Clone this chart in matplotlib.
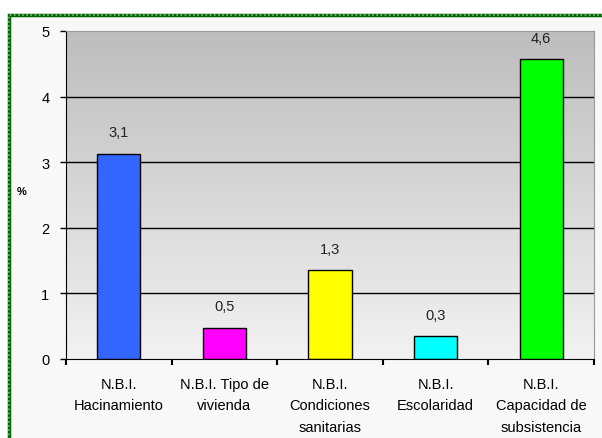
import numpy as np
import matplotlib
matplotlib.use("Agg")
import matplotlib.pyplot as plt
from matplotlib.patches import Rectangle

plt.rcParams['font.family'] = ['Liberation Sans', 'DejaVu Sans']

# data
categories = ["N.B.I.\nHacinamiento", "N.B.I. Tipo de\nvivienda",
              "N.B.I.\nCondiciones\nsanitarias", "N.B.I.\nEscolaridad",
              "N.B.I.\nCapacidad de\nsubsistencia"]
values = [3.13, 0.48, 1.35, 0.35, 4.57]
labels = ["3,1", "0,5", "1,3", "0,3", "4,6"]
colors = ["#3366FF", "#FF00FF", "#FFFF00", "#00FFFF", "#00FF00"]

W, H = 602, 439
fig = plt.figure(figsize=(W / 100, H / 100), dpi=100)
fig.patch.set_facecolor("white")

# framed panel with green dotted border
panel = Rectangle((9 / W, -0.1), 1.2, (H - 16) / H + 0.1, transform=fig.transFigure,
                  facecolor="#F8F8F8", edgecolor="#006400", lw=2.5, zorder=0)
fig.patches.append(panel)
dots = Rectangle((9 / W, -0.1), 1.2, (H - 16) / H + 0.1, transform=fig.transFigure,
                 facecolor="none", edgecolor="#7FBF7F", lw=1.2, ls=(0, (1, 1.5)), zorder=0)
fig.patches.append(dots)

ax = fig.add_axes([66 / W, (H - 360) / H, (594 - 66) / W, (360 - 32) / H])
ax.set_zorder(1)

x = np.arange(len(values))
ax.set_xlim(-0.5, len(values) - 0.5)
ax.set_ylim(0, 5)

# gradient background, dark at top
grad = np.linspace(0, 1, 256).reshape(-1, 1)
ax.imshow(grad, cmap=matplotlib.colors.LinearSegmentedColormap.from_list(
    "g", ["#BDBDBD", "#F2F2F2"]), aspect="auto", origin="upper",
    extent=(-0.5, len(values) - 0.5, 0, 5), zorder=0)

for yv in range(1, 5):
    ax.axhline(yv, color="black", lw=1, zorder=1)

ax.bar(x, values, width=0.41, color=colors, edgecolor="black", lw=1, zorder=2)
for xi, v, lab in zip(x, values, labels):
    ax.text(xi, v + 0.22, lab, ha="center", va="bottom", fontsize=10.5, color="#222222")

ax.set_yticks(range(0, 6))
ax.tick_params(axis="y", length=4, width=1, labelsize=10.5, pad=8, direction="out")
ax.set_xticks(np.arange(-0.5, len(values) + 0.5, 1))
ax.set_xticklabels([])
ax.tick_params(axis="x", length=4, width=1.5, direction="out")
for xi, cat in zip(x, categories):
    ax.text(xi, -0.27, cat, ha="center", va="top", fontsize=10.5,
            linespacing=1.7, transform=ax.transData, clip_on=False)

for side in ["top", "right"]:
    ax.spines[side].set_color("#999999")
ax.spines["left"].set_color("black")
ax.spines["bottom"].set_color("black")

fig.text(22 / W, 1 - 192 / H, "%", fontsize=8, ha="center", va="center", fontweight="bold")

fig.savefig("out.png", dpi=100, facecolor=fig.get_facecolor())
